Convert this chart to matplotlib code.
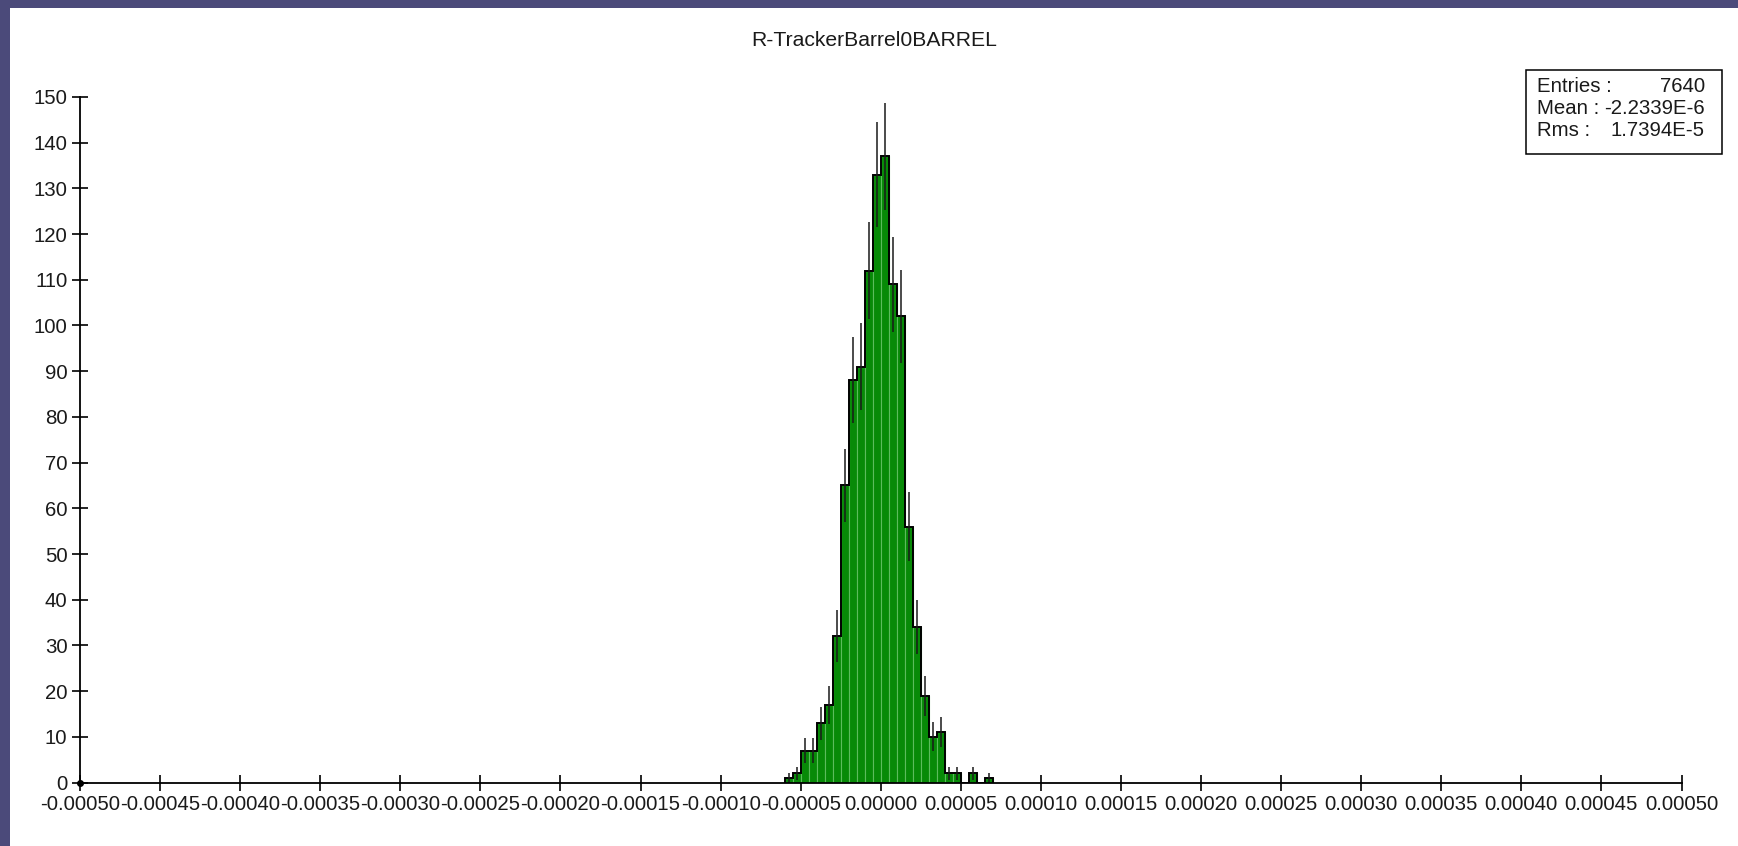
import numpy as np
import matplotlib
matplotlib.use("Agg")
import matplotlib.pyplot as plt
from matplotlib.patches import Rectangle

# ---- histogram content -------------------------------------------------
TITLE = "R-TrackerBarrel0BARREL"
X_RANGE = (-0.0005, 0.0005)
Y_RANGE = (0, 150)
BIN_WIDTH = 5e-6
FIRST_FILLED_EDGE = -6.0e-5
COUNTS = [1, 2, 7, 7, 13, 17, 32, 65, 88, 91, 112, 133, 137,
          109, 102, 56, 34, 19, 10, 11, 2, 2, 0, 2, 0, 1]
X_TICKS = [k * 5e-5 for k in range(-10, 11)]
X_TICK_LABELS = [f"{t + 0.0:.5f}" for t in X_TICKS]
Y_TICKS = list(range(0, 151, 10))
STATS_LABELS = ["Entries :", "Mean :", "Rms :"]
STATS_VALUES = ["7640", "-2.2339E-6", "1.7394E-5"]

# ---- figure ------------------------------------------------------------
W, H = 1738, 846
plt.rcParams["font.family"] = ["Liberation Sans", "DejaVu Sans"]
TEXT = "#1a1a1a"

fig = plt.figure(figsize=(W / 100, H / 100), dpi=100)
fig.patch.set_facecolor("#4b4a7a")
fig.add_artist(Rectangle((10 / W, 0), 1 - 10 / W, (H - 8) / H,
                         transform=fig.transFigure, facecolor="white",
                         edgecolor="none", zorder=-5))

ax = fig.add_axes([80 / W, 1 - 782.5 / H, (1681.5 - 80) / W, (782.5 - 97) / H])
ax.set_facecolor("none")

counts = np.array(COUNTS, dtype=float)
edges = FIRST_FILLED_EDGE + BIN_WIDTH * np.arange(len(counts) + 1)
centers = edges[:-1] + BIN_WIDTH / 2

ax.bar(edges[:-1], counts, width=BIN_WIDTH, align="edge",
       color="#078a07", edgecolor="#5cbc5c", linewidth=0.8, zorder=2)
ax.stairs(counts, edges, color="black", linewidth=1.4, zorder=3)

nz = counts > 0
err = np.sqrt(counts[nz])
ax.vlines(centers[nz], counts[nz] - err, counts[nz] + err,
          color=TEXT, linewidth=1.1, zorder=4)

ax.set_xlim(*X_RANGE)
ax.set_ylim(*Y_RANGE)
ax.set_xticks(X_TICKS)
ax.set_xticklabels(X_TICK_LABELS)
ax.set_yticks(Y_TICKS)

for side in ("top", "right"):
    ax.spines[side].set_visible(False)
for side in ("left", "bottom"):
    ax.spines[side].set_linewidth(1.3)
    ax.spines[side].set_color("black")
    ax.spines[side].set_zorder(5)

ax.tick_params(direction="inout", length=12, width=1.2, pad=3,
               labelsize=14.7, labelcolor=TEXT, color="black")
ax.plot([X_RANGE[0]], [Y_RANGE[0]], marker="o", ms=4, color="black",
        clip_on=False, zorder=6)

fig.text(874.5 / W, 1 - 40 / H, TITLE, ha="center", va="center",
         fontsize=15.2, color=TEXT)

# ---- statistics box ----------------------------------------------------
fig.add_artist(Rectangle((1526 / W, 1 - 154 / H), (1722 - 1526) / W, 84 / H,
                         transform=fig.transFigure, facecolor="white",
                         edgecolor="black", linewidth=1.1, zorder=5))
line_y = [86, 108.5, 131]
for lab, val, yy in zip(STATS_LABELS, STATS_VALUES, line_y):
    fig.text(1537 / W, 1 - yy / H, lab, ha="left", va="center",
             fontsize=14.7, color=TEXT, zorder=6)
    fig.text(1705 / W, 1 - yy / H, val, ha="right", va="center",
             fontsize=14.7, color=TEXT, zorder=6)

fig.savefig("out.png", dpi=100, facecolor=fig.get_facecolor())
